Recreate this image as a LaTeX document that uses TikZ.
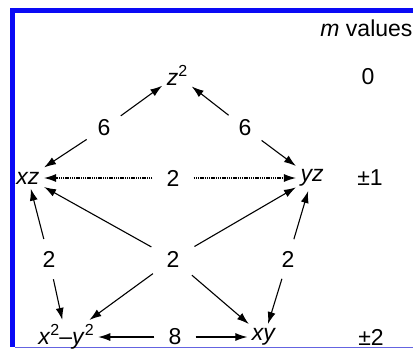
\documentclass[tikz,border=0pt]{standalone}
\usepackage{fontspec}
\setmainfont{Liberation Sans}
\usetikzlibrary{arrows.meta}
\definecolor{frameblue}{RGB}{10,10,245}
\definecolor{lineblue}{RGB}{100,100,225}
\newcommand{\sq}{\raisebox{0.75ex}{\fontsize{8}{8}\selectfont 2}}

\begin{document}
\begin{tikzpicture}[x=0.5pt, y=-0.5pt, every node/.style={font=\fontsize{11.5}{13}\selectfont},
	>={Latex[length=6pt, width=4pt]}, line width=0.55pt,
	orb/.style={inner sep=2pt}, num/.style={circle, inner sep=3.5pt}]
	\useasboundingbox (0,0) rectangle (413,350);
	% frame
	\fill[frameblue] (10,8) rectangle (413,13);
	\fill[frameblue] (10,8) rectangle (15,347);
	\draw[lineblue, line width=0.6pt] (15,347.5) -- (413,347.5);
	% orbitals
	\node[orb] (z2) at (177,75) {\textit{z}\sq};
	\node[orb] (xz) at (28,178) {\textit{xz}};
	\node[orb] (yz) at (312,178) {\textit{yz}};
	\node[orb] (xxyy) at (66,337) {\textit{x}\sq–\textit{y}\sq};
	\node[orb] (xy) at (264,337) {\textit{xy}};
	% multiplicities
	\node[num] (sixL) at (104,128) {6};
	\node[num] (sixR) at (245,128) {6};
	\node[num] (twoH) at (173,178) {2};
	\node[num] (twoL) at (49,259) {2};
	\node[num, inner sep=5pt] (twoC) at (173,259) {2};
	\node[num] (twoR) at (288,259) {2};
	\node[num] (eight) at (175,337) {8};
	% m values
	\node[anchor=east, inner sep=0pt] (mval) at (413,28) {\textit{m} values};
	\node (m0) at (368,77) {0};
	\node (m1) at (370,178) {±1};
	\node (m2) at (371,337) {±2};
	% connectors
	\foreach \l/\a/\b in {sixL/z2/xz, sixR/z2/yz, twoL/xz/xxyy, twoR/yz/xy, eight/xxyy/xy} {
		\draw[->] (\l) -- (\a);
		\draw[->] (\l) -- (\b);
	}
	\draw[->, dash pattern=on 0.7pt off 0.4pt] (twoH) -- (xz);
	\draw[->, dash pattern=on 0.7pt off 0.4pt] (twoH) -- (yz);
	\foreach \t in {xz, yz, xxyy, xy}
		\draw[->] (twoC) -- (\t);
\end{tikzpicture}
\end{document}
